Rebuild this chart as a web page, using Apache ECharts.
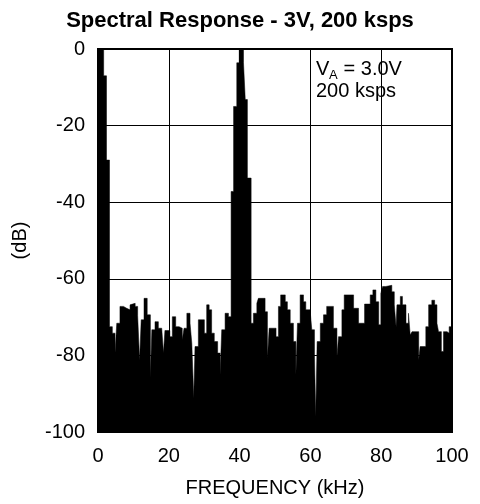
<!DOCTYPE html>
<html>
<head>
<meta charset="utf-8">
<script src="https://cdn.jsdelivr.net/npm/echarts@6/dist/echarts.min.js"></script>
<style>
html,body{margin:0;padding:0;background:#fff;}
#chart{width:480px;height:504px;}
</style>
</head>
<body>
<div id="chart"></div>
<script>
// Frequency (kHz) at which each step of the spectrum starts
const freqs = [0, 1.6, 2.4, 3.25, 4.05, 4.8, 5.3, 6.2, 7.2, 8.1, 9.05, 9.5, 10.5, 11.2, 11.75, 12.2, 13.0, 13.9, 14.8, 15.2,
  16.1, 17.05, 18.0, 18.5, 18.9, 20.3, 21.0, 21.95, 22.9, 23.8, 24.3, 25.1, 26.0, 26.5, 27.05, 27.4, 28.35, 30.05, 30.7, 31.4,
  32.1, 32.85, 33.8, 34.5, 34.95, 35.9, 36.85, 37.6, 38.3, 39.2, 39.9, 41.1, 41.6, 42.2, 43.26, 43.9, 44.87, 45.3, 47.2, 47.86,
  48.35, 50.3, 50.97, 51.6, 52.9, 53.5, 54.3, 55.2, 55.9, 56.35, 57.1, 58.05, 58.7, 59.9, 60.4, 61.15, 61.5, 61.9, 62.8, 63.7,
  64.6, 66.5, 67.5, 67.95, 68.9, 69.55, 72.2, 73.6, 75.3, 76.9, 77.65, 78.5, 79.3, 79.9, 80.4, 81.3, 83.0, 83.7, 84.2, 84.45,
  85.4, 86.0, 87.0, 87.7, 88.2, 88.7, 90.6, 91.0, 92.6, 93.4, 94.3, 95.1, 95.75, 96.2, 97.0, 97.6, 98.6, 99.2, 100];
// Level (dB) of each step
const levels = [0, -7, -29, -72.5, -74.2, -79.4, -71.6, -67.2, -67.7, -68.1, -66.8, -66.4, -67.2, -69.6, -81.2, -70.7, -65.1, -69.4, -86, -73.3,
  -71.2, -72.9, -73.3, -79.4, -73.5, -75.1, -69.9, -72.5, -72.9, -75.9, -72.9, -69.0, -71.6, -76.8, -91.2, -77.7, -70.7, -74.2, -66.8, -68.1,
  -74.2, -76.4, -79.4, -85.1, -73.3, -69.0, -69.9, -37.2, -15, -3.6, 0, -3.6, -13.2, -33.7, -71.6, -69.0, -66.4, -65.1, -68.6, -80.7,
  -72.9, -75.1, -67.2, -64.2, -66.0, -68.1, -71.6, -76.4, -85.1, -71.6, -64.2, -66.0, -68.1, -68.6, -73.3, -79.9, -96, -76.4, -71.6, -69.4,
  -67.2, -72.9, -80.3, -75.1, -68.1, -64.2, -67.7, -71.6, -66.6, -64.2, -62.9, -66.0, -72.0, -63.8, -62.0, -61.7, -63.4, -66.8, -72.5, -66.8,
  -64.6, -66.8, -71.6, -69.0, -74.7, -73.8, -81.2, -77.7, -72.5, -66.8, -65.6, -66.8, -71.6, -73.8, -79.0, -73.8, -74.2, -72.5, -72.5];
const xTicks = [0, 20, 40, 60, 80, 100];
const yTicks = [-100, -80, -60, -40, -20, 0];

const FONT = '"Liberation Sans", Arial, Helvetica, sans-serif';
const chart = echarts.init(document.getElementById('chart'), null, {renderer: 'canvas'});
const data = freqs.map((f, i) => [f, levels[i]]);

chart.setOption({
  animation: false,
  backgroundColor: '#fff',
  title: {
    text: 'Spectral Response - 3V, 200 ksps',
    left: 'center', top: 5,
    textStyle: {fontFamily: FONT, fontSize: 22, fontWeight: 'bold', color: '#000'}
  },
  grid: {left: 98, right: 28, top: 49, bottom: 72, show: true, borderColor: '#000', borderWidth: 2, backgroundColor: 'transparent'},
  xAxis: {
    type: 'value', min: xTicks[0], max: xTicks[xTicks.length - 1], interval: 20,
    name: 'FREQUENCY (kHz)', nameLocation: 'middle', nameGap: 46,
    nameTextStyle: {fontFamily: FONT, fontSize: 20, color: '#000'},
    axisLine: {show: true, lineStyle: {color: '#000', width: 2}},
    axisTick: {show: false},
    axisLabel: {fontFamily: FONT, fontSize: 20, color: '#000', margin: 14},
    splitLine: {show: true, lineStyle: {color: '#000', width: 1}}
  },
  yAxis: {
    type: 'value', min: yTicks[0], max: yTicks[yTicks.length - 1], interval: 20,
    name: '(dB)', nameLocation: 'middle', nameGap: 68, nameRotate: 90,
    nameTextStyle: {fontFamily: FONT, fontSize: 20, color: '#000'},
    axisLine: {show: true, lineStyle: {color: '#000', width: 2}},
    axisTick: {show: false},
    axisLabel: {fontFamily: FONT, fontSize: 20, color: '#000', margin: 13},
    splitLine: {show: true, lineStyle: {color: '#000', width: 1}}
  },
  series: [{
    type: 'line', step: 'end', data: data, symbol: 'none', z: 3,
    lineStyle: {color: '#000', width: 0.5},
    areaStyle: {color: '#000', opacity: 1, origin: 'start'}
  }],
  graphic: [
    {type: 'text', left: 316, top: 59, z: 10, style: {text: 'V', fontFamily: FONT, fontSize: 20, fill: '#000'}},
    {type: 'text', left: 329, top: 69, z: 10, style: {text: 'A', fontFamily: FONT, fontSize: 13, fill: '#000'}},
    {type: 'text', left: 338, top: 59, z: 10, style: {text: ' = 3.0V', fontFamily: FONT, fontSize: 20, fill: '#000'}},
    {type: 'text', left: 316, top: 81, z: 10, style: {text: '200 ksps', fontFamily: FONT, fontSize: 20, fill: '#000'}}
  ]
});
</script>
</body>
</html>
